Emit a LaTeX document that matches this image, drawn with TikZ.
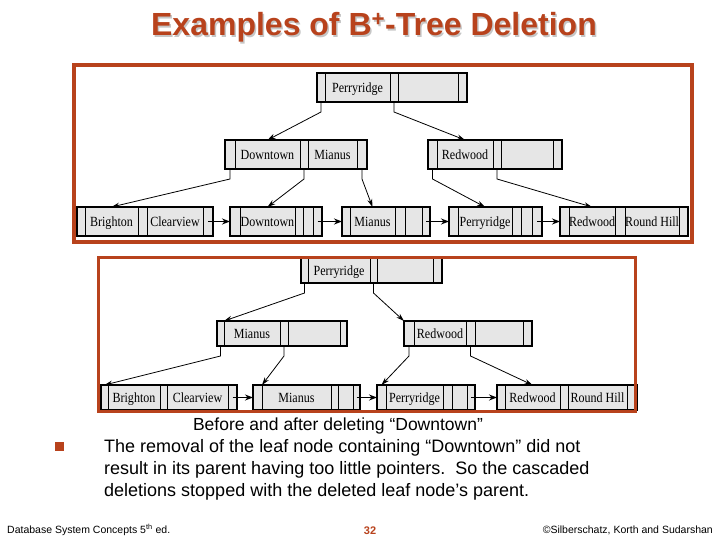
\documentclass[tikz,border=0pt]{standalone}
\usepackage{fontspec}
\newfontfamily\arialfont{Liberation Sans}
\newfontfamily\treefont[FakeStretch=0.86]{Liberation Serif}
\usetikzlibrary{positioning, arrows.meta, calc}
\definecolor{framered}{RGB}{184,66,28}
\definecolor{nodegray}{RGB}{230,230,230}

\begin{document}
\begin{tikzpicture}[x=1pt, y=-1pt,
    slot/.style={draw, fill=nodegray, inner sep=0pt, outer sep=0pt, line width=0.9pt, minimum height=29, text height=11.5pt, text depth=1.5pt, font=\treefont\fontsize{14}{15}\selectfont},
    outline/.style={draw, line width=1.8pt},
    ptrarrow/.style={-{Stealth[length=8pt, width=5pt]}, line width=0.8pt},
    chain/.style={-{Stealth[length=8pt, width=6pt]}, line width=1.6pt},
    frame/.style={draw=framered, line width=4pt},
    titletext/.style={font=\arialfont\bfseries\fontsize{32}{36}\selectfont, anchor=base, inner sep=0pt},
    sans/.style={font=\arialfont\fontsize{18}{21}\selectfont, inner sep=0pt},
    foot/.style={font=\arialfont\fontsize{10.5}{11}\selectfont, inner sep=0pt}]
    \useasboundingbox (0,0) rectangle (720,540);

    % Title
    \node [titletext, text=gray!45] (shadow) at (375.5,37.5) {Examples of B\textsuperscript{+}-Tree Deletion};
    \node [titletext, text=framered] (title) at (374,36) {Examples of B\textsuperscript{+}-Tree Deletion};

    % Before: root
    \node [slot, minimum width=8, anchor=north west] (root-p1) at (317,73) {};
    \node [slot, minimum width=65, right=0pt of root-p1] (root-k1) {Perryridge};
    \node [slot, minimum width=8, right=0pt of root-k1] (root-p2) {};
    \node [slot, minimum width=60, right=0pt of root-p2] (root-k2) {};
    \node [slot, minimum width=9, right=0pt of root-k2] (root-p3) {};
    \draw [outline] (root-p1.north west) rectangle (root-p3.south east);

    % Before: inner nodes
    \node [slot, minimum width=10, anchor=north west] (dm-p1) at (225,140) {};
    \node [slot, minimum width=65, right=0pt of dm-p1] (dm-k1) {Downtown};
    \node [slot, minimum width=8, right=0pt of dm-k1] (dm-p2) {};
    \node [slot, minimum width=49, right=0pt of dm-p2] (dm-k2) {Mianus};
    \node [slot, minimum width=10, right=0pt of dm-k2] (dm-p3) {};
    \draw [outline] (dm-p1.north west) rectangle (dm-p3.south east);

    \node [slot, minimum width=9, anchor=north west] (red-p1) at (428,140) {};
    \node [slot, minimum width=56, right=0pt of red-p1] (red-k1) {Redwood};
    \node [slot, minimum width=8, right=0pt of red-k1] (red-p2) {};
    \node [slot, minimum width=52, right=0pt of red-p2] (red-k2) {};
    \node [slot, minimum width=9, right=0pt of red-k2] (red-p3) {};
    \draw [outline] (red-p1.north west) rectangle (red-p3.south east);

    % Before: leaves
    \node [slot, minimum width=8, anchor=north west] (bc-p1) at (77,207) {};
    \node [slot, minimum width=53, right=0pt of bc-p1] (bc-k1) {Brighton};
    \node [slot, minimum width=9, right=0pt of bc-k1] (bc-p2) {};
    \node [slot, minimum width=56, right=0pt of bc-p2] (bc-k2) {Clearview};
    \node [slot, minimum width=10, right=0pt of bc-k2] (bc-p3) {};
    \draw [outline] (bc-p1.north west) rectangle (bc-p3.south east);

    \node [slot, minimum width=10, anchor=north west] (dt-p1) at (230,207) {};
    \node [slot, minimum width=55, right=0pt of dt-p1] (dt-k1) {Downtown};
    \node [slot, minimum width=8, right=0pt of dt-k1] (dt-p2) {};
    \node [slot, minimum width=10, right=0pt of dt-p2] (dt-k2) {};
    \node [slot, minimum width=9, right=0pt of dt-k2] (dt-p3) {};
    \draw [outline] (dt-p1.north west) rectangle (dt-p3.south east);

    \node [slot, minimum width=8, anchor=north west] (mi-p1) at (342,207) {};
    \node [slot, minimum width=45, right=0pt of mi-p1] (mi-k1) {Mianus};
    \node [slot, minimum width=10, right=0pt of mi-k1] (mi-p2) {};
    \node [slot, minimum width=17, right=0pt of mi-p2] (mi-k2) {};
    \node [slot, minimum width=8, right=0pt of mi-k2] (mi-p3) {};
    \draw [outline] (mi-p1.north west) rectangle (mi-p3.south east);

    \node [slot, minimum width=9, anchor=north west] (pe-p1) at (449,207) {};
    \node [slot, minimum width=54, right=0pt of pe-p1] (pe-k1) {Perryridge};
    \node [slot, minimum width=9, right=0pt of pe-k1] (pe-p2) {};
    \node [slot, minimum width=11, right=0pt of pe-p2] (pe-k2) {};
    \node [slot, minimum width=10, right=0pt of pe-k2] (pe-p3) {};
    \draw [outline] (pe-p1.north west) rectangle (pe-p3.south east);

    \node [slot, minimum width=9, anchor=north west] (rr-p1) at (560,207) {};
    \node [slot, minimum width=46, right=0pt of rr-p1] (rr-k1) {Redwood};
    \node [slot, minimum width=10, right=0pt of rr-k1] (rr-p2) {};
    \node [slot, minimum width=54, right=0pt of rr-p2] (rr-k2) {Round Hill};
    \node [slot, minimum width=9, right=0pt of rr-k2] (rr-p3) {};
    \draw [outline] (rr-p1.north west) rectangle (rr-p3.south east);

    % Before: pointers
    \draw [ptrarrow] (root-p1.south) -- ++(0,10) -- (dm-k1.north);
    \draw [ptrarrow] (root-p2.south) -- ++(0,10) -- (red-k1.north);
    \draw [ptrarrow] (dm-p1.south) -- ++(0,10) -- (bc-k1.north);
    \draw [ptrarrow] (dm-p2.south) -- ++(0,10) -- (dt-k1.north);
    \draw [ptrarrow] (dm-p3.south) -- ++(0,10) -- (mi-k1.north);
    \draw [ptrarrow] (red-p1.south) -- ++(0,10) -- (pe-k1.north);
    \draw [ptrarrow] (red-p2.south) -- ++(0,10) -- (rr-k1.north);
    \draw [chain] (bc-p3.center) -- (dt-p1.west);
    \draw [chain] (dt-p3.center) -- (mi-p1.west);
    \draw [chain] (mi-p3.center) -- (pe-p1.west);
    \draw [chain] (pe-p3.center) -- (rr-p1.west);
    \draw [frame] (74,65.5) rectangle (692,242);

    % After
    \begin{scope}[slot/.append style={minimum height=25}]
    \node [slot, minimum width=7, anchor=north west] (root2-p1) at (301,258) {};
    \node [slot, minimum width=62, right=0pt of root2-p1] (root2-k1) {Perryridge};
    \node [slot, minimum width=7, right=0pt of root2-k1] (root2-p2) {};
    \node [slot, minimum width=56, right=0pt of root2-p2] (root2-k2) {};
    \node [slot, minimum width=9, right=0pt of root2-k2] (root2-p3) {};
    \draw [outline] (root2-p1.north west) rectangle (root2-p3.south east);

    \node [slot, minimum width=7, anchor=north west] (mi2-p1) at (217,321) {};
    \node [slot, minimum width=56, right=0pt of mi2-p1] (mi2-k1) {Mianus};
    \node [slot, minimum width=8, right=0pt of mi2-k1] (mi2-p2) {};
    \node [slot, minimum width=52, right=0pt of mi2-p2] (mi2-k2) {};
    \node [slot, minimum width=7, right=0pt of mi2-k2] (mi2-p3) {};
    \draw [outline] (mi2-p1.north west) rectangle (mi2-p3.south east);

    \node [slot, minimum width=10, anchor=north west] (red2-p1) at (404,321) {};
    \node [slot, minimum width=52, right=0pt of red2-p1] (red2-k1) {Redwood};
    \node [slot, minimum width=9, right=0pt of red2-k1] (red2-p2) {};
    \node [slot, minimum width=48, right=0pt of red2-p2] (red2-k2) {};
    \node [slot, minimum width=9, right=0pt of red2-k2] (red2-p3) {};
    \draw [outline] (red2-p1.north west) rectangle (red2-p3.south east);

    \node [slot, minimum width=7, anchor=north west] (bc2-p1) at (101,385) {};
    \node [slot, minimum width=52, right=0pt of bc2-p1] (bc2-k1) {Brighton};
    \node [slot, minimum width=7, right=0pt of bc2-k1] (bc2-p2) {};
    \node [slot, minimum width=61, right=0pt of bc2-p2] (bc2-k2) {Clearview};
    \node [slot, minimum width=9, right=0pt of bc2-k2] (bc2-p3) {};
    \draw [outline] (bc2-p1.north west) rectangle (bc2-p3.south east);

    \node [slot, minimum width=9, anchor=north west] (mil2-p1) at (253,385) {};
    \node [slot, minimum width=69, right=0pt of mil2-p1] (mil2-k1) {Mianus};
    \node [slot, minimum width=7, right=0pt of mil2-k1] (mil2-p2) {};
    \node [slot, minimum width=15, right=0pt of mil2-p2] (mil2-k2) {};
    \node [slot, minimum width=7, right=0pt of mil2-k2] (mil2-p3) {};
    \draw [outline] (mil2-p1.north west) rectangle (mil2-p3.south east);

    \node [slot, minimum width=9, anchor=north west] (pe2-p1) at (377,385) {};
    \node [slot, minimum width=57, right=0pt of pe2-p1] (pe2-k1) {Perryridge};
    \node [slot, minimum width=9, right=0pt of pe2-k1] (pe2-p2) {};
    \node [slot, minimum width=15, right=0pt of pe2-p2] (pe2-k2) {};
    \node [slot, minimum width=8, right=0pt of pe2-k2] (pe2-p3) {};
    \draw [outline] (pe2-p1.north west) rectangle (pe2-p3.south east);

    \node [slot, minimum width=8, anchor=north west] (rr2-p1) at (497,385) {};
    \node [slot, minimum width=55, right=0pt of rr2-p1] (rr2-k1) {Redwood};
    \node [slot, minimum width=8, right=0pt of rr2-k1] (rr2-p2) {};
    \node [slot, minimum width=59, right=0pt of rr2-p2] (rr2-k2) {Round Hill};
    \node [slot, minimum width=10, right=0pt of rr2-k2] (rr2-p3) {};
    \draw [outline] (rr2-p1.north west) rectangle (rr2-p3.south east);
    \end{scope}

    % After: pointers
    \draw [ptrarrow] (root2-p1.south) -- ++(0,10) -- (mi2-p1.north east);
    \draw [ptrarrow] (root2-p2.south) -- ++(0,10) -- (red2-p1.north west);
    \draw [ptrarrow] (mi2-p1.south) -- ++(0,10) -- (bc2-p1.north);
    \draw [ptrarrow] (mi2-p2.south) -- ++(0,10) -- (mil2-p1.north east);
    \draw [ptrarrow] (red2-p1.south) -- ++(0,10) -- (pe2-p1.north);
    \draw [ptrarrow] (red2-p2.south) -- ++(0,10) -- (rr2-k1.north);
    \draw [chain] (bc2-p3.center) -- (mil2-p1.west);
    \draw [chain] (mil2-p3.center) -- (pe2-p1.west);
    \draw [chain] (pe2-p3.center) -- (rr2-p1.west);
    \draw [frame, line width=3pt] (98.5,257) rectangle (635.5,411.5);

    % Text
    \node [sans, font=\arialfont\fontsize{17.5}{21}\selectfont, anchor=base] (caption) at (338,430.5) {Before and after deleting “Downtown”};
    \node [fill=framered, minimum size=9, inner sep=0pt, anchor=north west] (bullet) at (55,442) {};
    \node [sans, anchor=base west] (line1) at (104,452.5) {The removal of the leaf node containing “Downtown” did not};
    \node [sans, anchor=base west] (line2) at (104,474.5) {result in its parent having too little pointers.\ \ So the cascaded};
    \node [sans, anchor=base west] (line3) at (104,496) {deletions stopped with the deleted leaf node’s parent.};

    % Footer
    \node [foot, anchor=base west] (book) at (7,533) {Database System Concepts 5\textsuperscript{th} ed.};
    \node [foot, font=\arialfont\bfseries\fontsize{11}{12}\selectfont, text=framered, anchor=base] (page) at (370,534) {32};
    \node [foot, anchor=base east] (copy) at (713,533) {©Silberschatz, Korth and Sudarshan};
\end{tikzpicture}
\end{document}
